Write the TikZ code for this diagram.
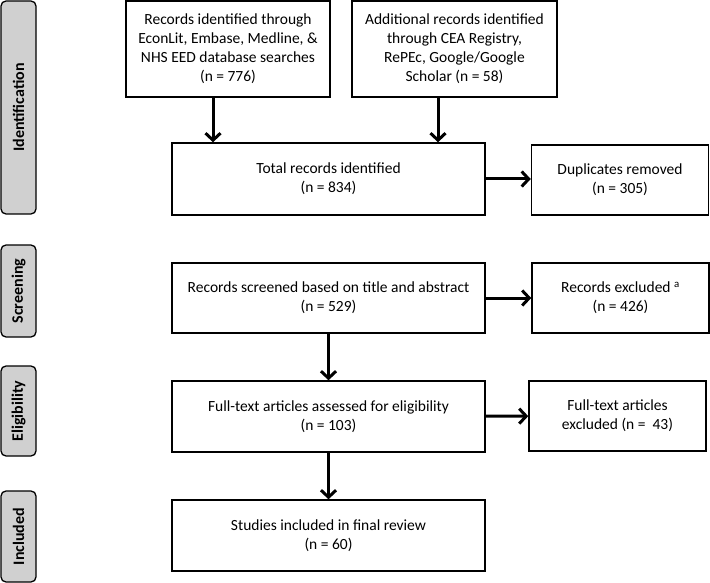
\documentclass[tikz,border=0pt]{standalone}
\usepackage{fontspec}
\setmainfont{Carlito}
\usepackage{tikz}
\usetikzlibrary{arrows.meta}
\definecolor{stagegray}{RGB}{208,208,208}
\tikzstyle{box}=[draw, line width=1.5pt, align=center, inner sep=0pt, font=\fontsize{15.5}{19}\selectfont]
\tikzstyle{stage}=[draw, line width=1.3pt, fill=stagegray, rounded corners=5pt, rotate=90, minimum height=35pt, inner sep=0pt, font=\fontsize{16}{19}\selectfont\bfseries]
\tikzstyle{flow}=[-{Straight Barb[length=7pt,width=15pt]}, line width=3pt]

\begin{document}
\begin{tikzpicture}[x=1pt, y=-1pt]
		   \useasboundingbox (0, 0) rectangle (710, 583);
		   \begin{scope}
			   \node (ident) at (18.5, 107.5)[stage, minimum width=213pt] {Identification};
			   \node (screening) at (18.5, 291)[stage, minimum width=92pt] {Screening};
			   \node (eligibility) at (18.5, 411)[stage, minimum width=90pt] {Eligibility};
			   \node (included) at (18.5, 536.5)[stage, minimum width=91pt] {Included};
		   \end{scope}
		   \begin{scope}
			   \node (db) at (228, 49)[box, minimum width=204pt, minimum height=96pt] {Records identified through\\EconLit, Embase, Medline, \&\\NHS EED database searches\\(n = 776)};
			   \node (extra) at (454.5, 49)[box, minimum width=205pt, minimum height=96pt] {Additional records identified\\through CEA Registry,\\RePEc, Google/Google\\Scholar (n = 58)};
			   \node (total) at (328.5, 179)[box, minimum width=313pt, minimum height=72pt] {Total records identified\\(n = 834)};
			   \node (dup) at (620, 180)[box, minimum width=177pt, minimum height=70pt] {Duplicates removed\\(n = 305)};
			   \node (screened) at (328.5, 298)[box, minimum width=313pt, minimum height=70pt] {Records screened based on title and abstract\\(n = 529)};
			   \node (recexcl) at (620.5, 298)[box, minimum width=177pt, minimum height=70pt] {Records excluded \textsuperscript{a}\\(n = 426)};
			   \node (fulltext) at (328.5, 416.5)[box, minimum width=313pt, minimum height=71pt] {Full-text articles assessed for eligibility\\(n = 103)};
			   \node (fullexcl) at (617.5, 416)[box, minimum width=177pt, minimum height=70pt] {Full-text articles\\excluded (n = \ 43)};
			   \node (final) at (328.5, 535.5)[box, minimum width=313pt, minimum height=71pt] {Studies included in final review\\(n = 60)};
			   \coordinate (dbout) at ([xshift=-15pt]db.south);
			   \coordinate (extraout) at ([xshift=-16.5pt]extra.south);
		   \end{scope}
		   \begin{scope}
			   \path [flow] (dbout) edge (dbout |- total.north);
			   \path [flow] (extraout) edge (extraout |- total.north);
			   \path [flow] (total.east) edge (total.east -| dup.west);
			   \path [flow] (screened) edge (recexcl);
			   \path [flow] (screened) edge (fulltext);
			   \path [flow] (fulltext) edge (fullexcl);
			   \path [flow] (fulltext) edge (final);
		   \end{scope}
	   \end{tikzpicture}
\end{document}
